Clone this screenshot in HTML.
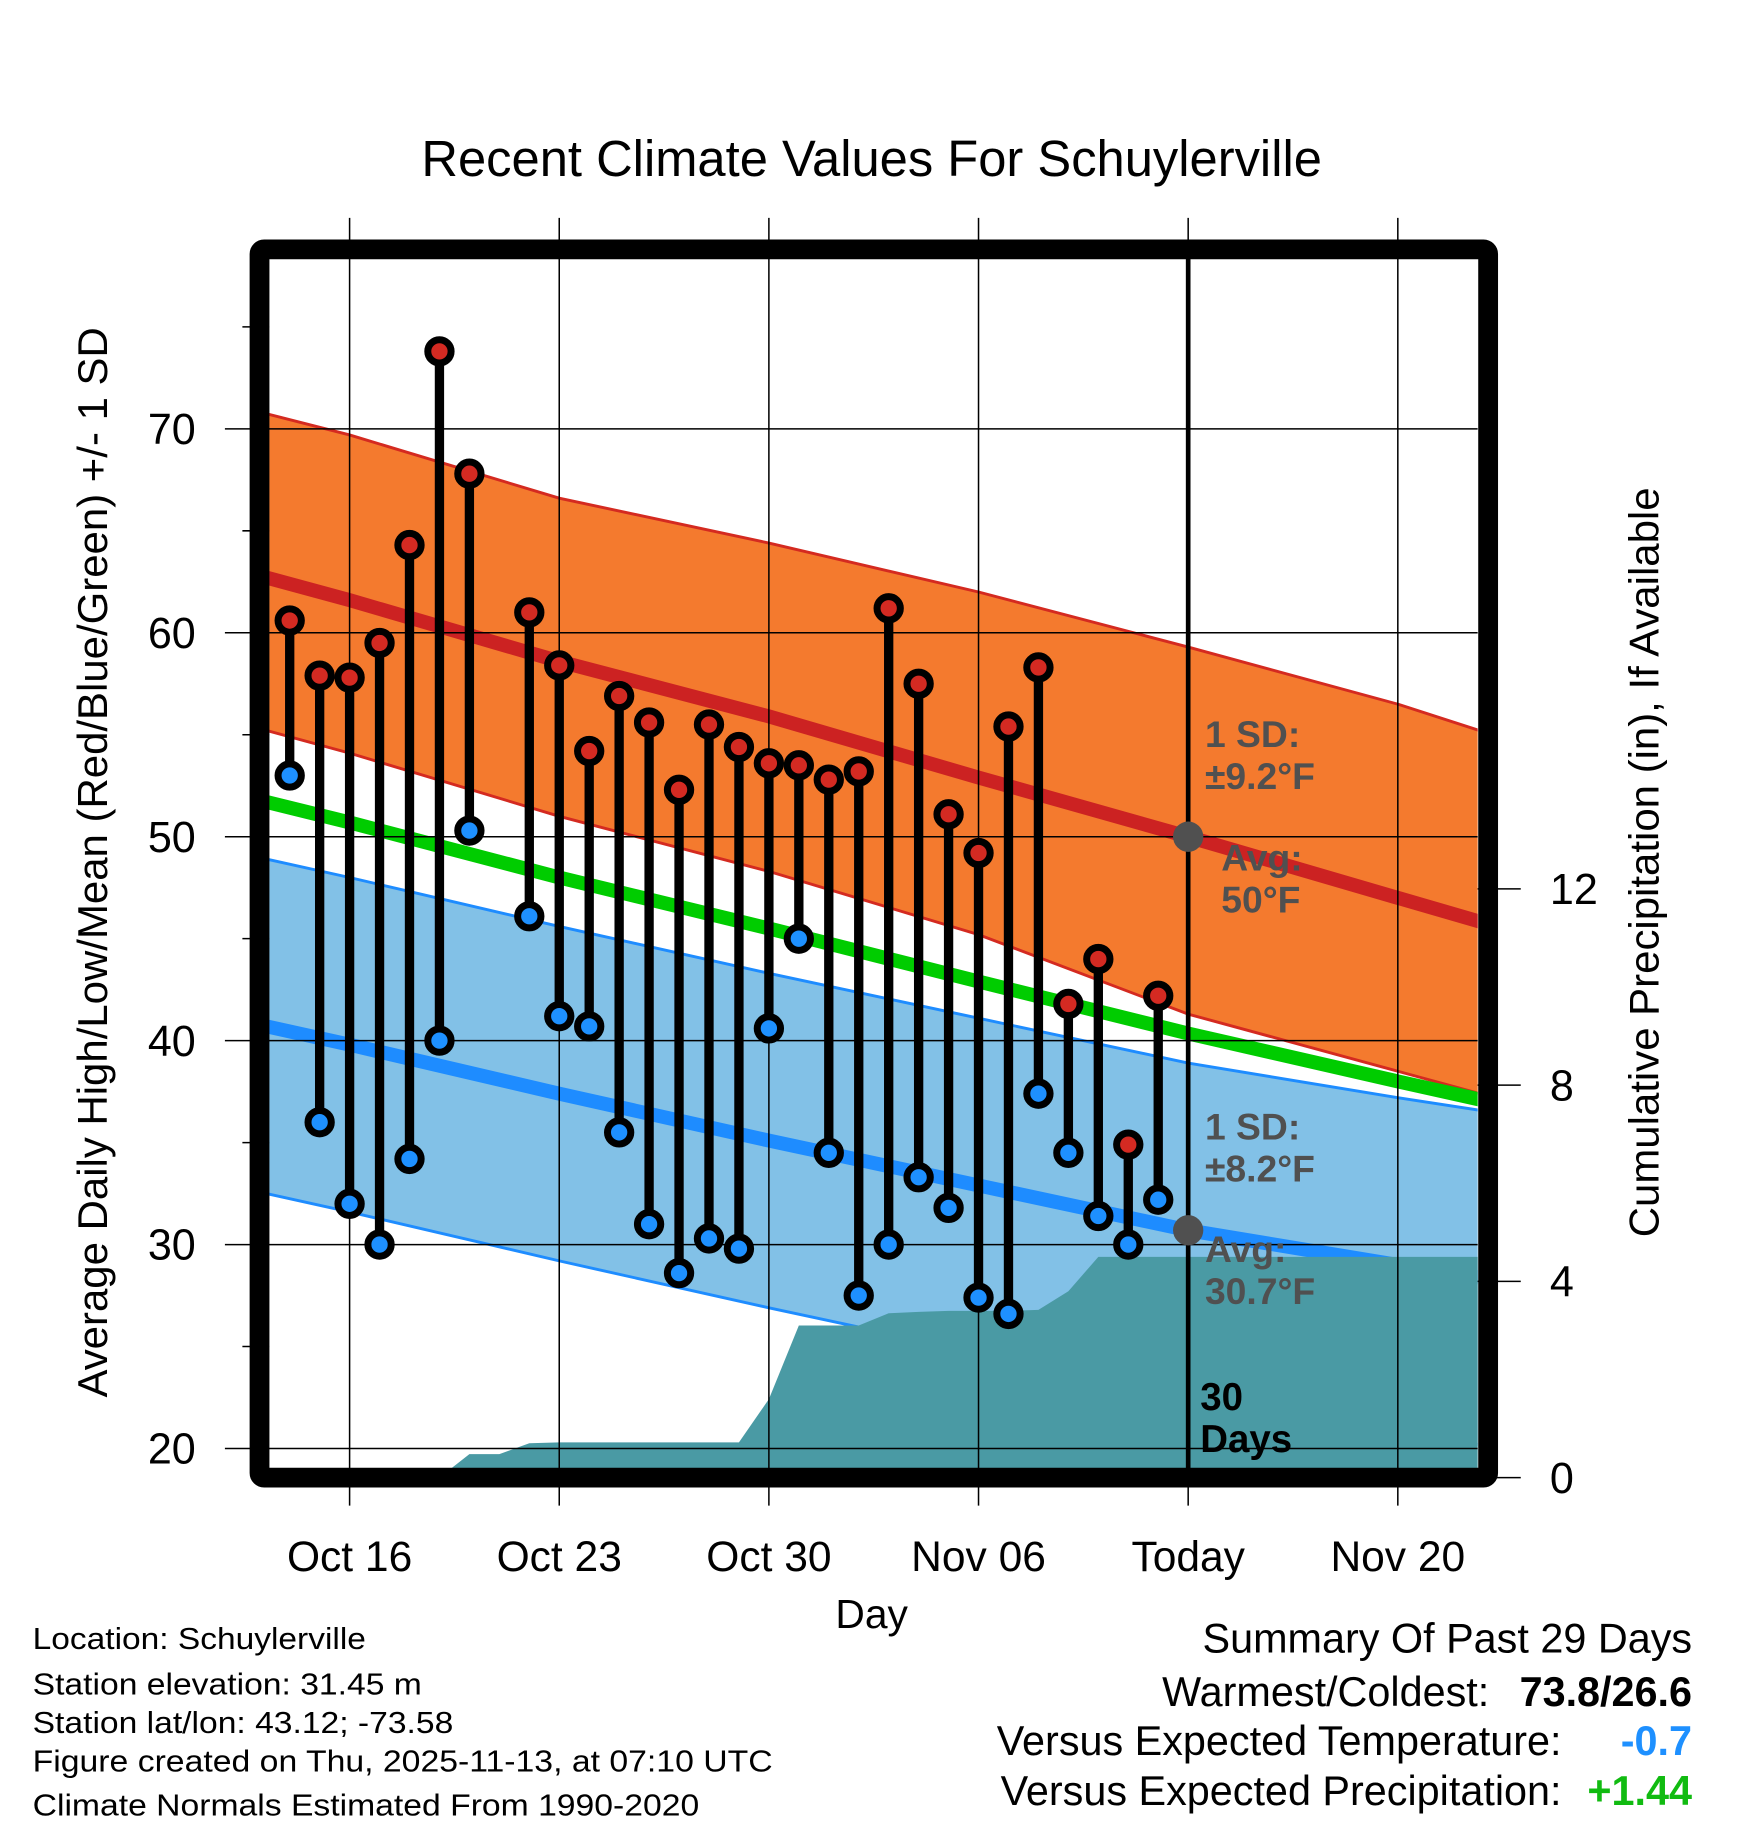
<!DOCTYPE html>
<html><head><meta charset="utf-8"><style>html,body{margin:0;padding:0;background:#fff}svg{display:block}text{font-family:"Liberation Sans",sans-serif}</style></head>
<body>
<svg id="chart" xmlns="http://www.w3.org/2000/svg" width="1748" height="1828" viewBox="0 0 1500 1568.65">
<defs><clipPath id="pc"><rect x="231" y="222" width="1037" height="1038"/></clipPath></defs>
<rect width="1500" height="1569" fill="#fff"/>
<g id="bands" clip-path="url(#pc)"></g>
<g id="grid"></g>
<g id="marks" clip-path="url(#pc)"></g>
<g id="axes"></g>
<text x="748" y="151" font-size="43.5" text-anchor="middle">Recent Climate Values For Schuylerville</text>
<text transform="translate(92,740) rotate(-90)" font-size="36" text-anchor="middle">Average Daily High/Low/Mean (Red/Blue/Green) +/- 1 SD</text>
<text transform="translate(1423,740) rotate(-90)" font-size="36" text-anchor="middle">Cumulative Precipitation (in), If Available</text>
<text x="748" y="1397" font-size="35" text-anchor="middle">Day</text>
<g font-size="26">
<text x="28" y="1415" textLength="286" lengthAdjust="spacingAndGlyphs">Location: Schuylerville</text>
<text x="28" y="1454" textLength="334" lengthAdjust="spacingAndGlyphs">Station elevation: 31.45 m</text>
<text x="28" y="1487" textLength="361" lengthAdjust="spacingAndGlyphs">Station lat/lon: 43.12; -73.58</text>
<text x="28" y="1520" textLength="635" lengthAdjust="spacingAndGlyphs">Figure created on Thu, 2025-11-13, at 07:10 UTC</text>
<text x="28" y="1558" textLength="572" lengthAdjust="spacingAndGlyphs">Climate Normals Estimated From 1990-2020</text>
</g>
<g font-size="35.5">
<text x="1452" y="1418" text-anchor="end">Summary Of Past 29 Days</text>
<text x="1278" y="1464" text-anchor="end">Warmest/Coldest:</text>
<text x="1452" y="1464" text-anchor="end" font-weight="bold">73.8/26.6</text>
<text x="1340" y="1506" text-anchor="end">Versus Expected Temperature:</text>
<text x="1452" y="1506" text-anchor="end" font-weight="bold" fill="#1e90ff">-0.7</text>
<text x="1340" y="1549" text-anchor="end">Versus Expected Precipitation:</text>
<text x="1452" y="1549" text-anchor="end" font-weight="bold" fill="#11bb11">+1.44</text>
</g>
<script>
const highs=[60.6,57.9,57.8,59.5,64.3,73.8,67.8,null,61.0,58.4,54.2,56.9,55.6,52.3,55.5,54.4,53.6,53.5,52.8,53.2,61.2,57.5,51.1,49.2,55.4,58.3,41.8,44.0,34.9,42.2];
const lows=[53.0,36.0,32.0,30.0,34.2,40.0,50.3,null,46.1,41.2,40.7,35.5,31.0,28.6,30.3,29.8,40.6,45.0,34.5,27.5,30.0,33.3,31.8,27.4,26.6,37.4,34.5,31.4,30.0,32.2];
const firstDay=-2;
const precip=[0,0,0,0,0,0.48,0.48,0.7,0.72,0.72,0.72,0.72,0.72,0.72,0.72,1.6,3.1,3.1,3.1,3.35,3.38,3.4,3.4,3.4,3.42,3.8,4.5,4.5,4.5];
const precipFirstDay=-1;
const normDays=[-4,0,7,14,21,28,35,39];
const normHigh=[63.2,61.6,58.6,55.9,52.9,50.0,47.0,45.3];
const normHighUpper=[71.2,69.7,66.6,64.4,62.0,59.3,56.5,54.6];
const normHighLower=[55.7,54.1,51.0,48.3,45.2,41.3,38.5,36.9];
const normLow=[41.1,39.8,37.4,35.1,32.9,30.7,29.0,28.1];
const sdHigh=9.2, sdLow=8.2;
const xTickDays=[0,7,14,21,28,35];
const xTickLabels=["Oct 16","Oct 23","Oct 30","Nov 06","Today","Nov 20"];
const yTicks=[20,30,40,50,60,70];
const yMinor=[25,35,45,55,65,75];
const y2Ticks=[0,4,8,12];
const todayDay=28;

const X=d=>300+d*25.7, Y=v=>1243-(v-20)*17.5, Y2=p=>1268-p*42.1;
const NS="http://www.w3.org/2000/svg";
function mk(t,a,p){const e=document.createElementNS(NS,t);for(const k in a)e.setAttribute(k,a[k]);p.appendChild(e);return e;}
const bands=document.getElementById('bands'),grid=document.getElementById('grid'),marks=document.getElementById('marks'),axes=document.getElementById('axes');
const pts=(arr,off)=>normDays.map((d,i)=>X(d)+','+Y(arr[i]+off));
function band(up,lo,fill,edge,name){
  const p=mk('polygon',{points:up.concat(lo.slice().reverse()).join(' '),fill:fill},bands);
  
  
  [up,lo].forEach(l=>{const e=mk('polyline',{points:l.join(' '),fill:'none',stroke:edge,'stroke-width':2.5},bands);
  
  });
}
band(pts(normHighUpper,0),pts(normHighLower,0),'#f47a2e','#d42a20','high');
band(pts(normLow,sdLow),pts(normLow,-sdLow),'#82c1e7','#1e8cff','low');
const mean=normHigh.map((h,i)=>(h+normLow[i])/2);
[[mean,'#00cc00','mean-line'],[normHigh,'#cc2222','avg-high-line'],[normLow,'#1e8cff','avg-low-line']].forEach(([a,c,n])=>{
  const e=mk('polyline',{points:pts(a,0).join(' '),fill:'none',stroke:c,'stroke-width':12},bands);
  
  
});
let pp=[];precip.forEach((v,i)=>pp.push(X(precipFirstDay+i)+','+Y2(v)));
pp.push('1300,'+Y2(precip[precip.length-1]));pp.push('1300,1300');pp.push(X(precipFirstDay)+',1300');
const pr=mk('polygon',{points:pp.join(' '),fill:'#4a9aa4'},bands);


xTickDays.forEach((d,i)=>{
  const l=mk('line',{x1:X(d),x2:X(d),y1:187,y2:1292,stroke:'#000','stroke-width':1.3},grid);
  
  
  const t=mk('text',{x:X(d),y:1348,'font-size':36.5,'text-anchor':'middle'},axes);
  t.textContent=xTickLabels[i];
  
  
});
yTicks.forEach(v=>{
  const l=mk('line',{x1:193,x2:1268,y1:Y(v),y2:Y(v),stroke:'#000','stroke-width':1.3},grid);
  
  
  const t=mk('text',{x:168,y:Y(v)+13,'font-size':37,'text-anchor':'end'},axes);
  t.textContent=v;
  
  
});
yMinor.forEach(v=>{
  const l=mk('line',{x1:208,x2:231,y1:Y(v),y2:Y(v),stroke:'#000','stroke-width':1.3},axes);
  
  
});
y2Ticks.forEach(v=>{
  const l=mk('line',{x1:1268,x2:1305,y1:Y2(v),y2:Y2(v),stroke:'#000','stroke-width':1.3},axes);
  
  
  const t=mk('text',{x:1330,y:Y2(v)+13,'font-size':37},axes);
  t.textContent=v;
  
  
});
highs.forEach((h,i)=>{
  if(h==null)return;const lo=lows[i],x=X(firstDay+i);
  const s=mk('line',{x1:x,x2:x,y1:Y(h),y2:Y(lo),stroke:'#000','stroke-width':8},marks);
  
  
  const a=mk('circle',{cx:x,cy:Y(h),r:10,fill:'#d42a22',stroke:'#000','stroke-width':6},marks);
  
  
  const b=mk('circle',{cx:x,cy:Y(lo),r:10,fill:'#1e90ff',stroke:'#000','stroke-width':6},marks);
  
  
});
const tl=mk('line',{x1:X(todayDay),x2:X(todayDay),y1:222,y2:1260,stroke:'#000','stroke-width':4},marks);


const ix=normDays.indexOf(todayDay);
[[normHigh[ix],'today-avg-high-dot'],[normLow[ix],'today-avg-low-dot']].forEach(([v,n])=>{
  const c=mk('circle',{cx:X(todayDay),cy:Y(v),r:13,fill:'#505050'},marks);
  
  
});
function lab(x,y,lines,fill,name,fs){
  const t=mk('text',{x:x,y:y,'font-size':fs,'font-weight':'bold',fill:fill},marks);
  lines.forEach((s,i)=>{const ts=mk('tspan',{x:x,dy:i?36:0},t);ts.textContent=s;});
  
  
}
lab(1034,641,['1 SD:','±'+sdHigh+'°F'],'#505050','high-sd-label',32);
lab(1048,747,['Avg:',normHigh[ix]+'°F'],'#505050','avg-high-label',32);
lab(1034,978,['1 SD:','±'+sdLow+'°F'],'#505050','low-sd-label',32);
lab(1034,1083,['Avg:',normLow[ix]+'°F'],'#505050','avg-low-label',32);
lab(1030,1210,['30','Days'],'#000','window-days-label',33);
const br=mk('rect',{x:222.7,y:214,width:1054.3,height:1054,fill:'none',stroke:'#000','stroke-width':17,rx:4},axes);


</script>
</svg>
</body></html>
